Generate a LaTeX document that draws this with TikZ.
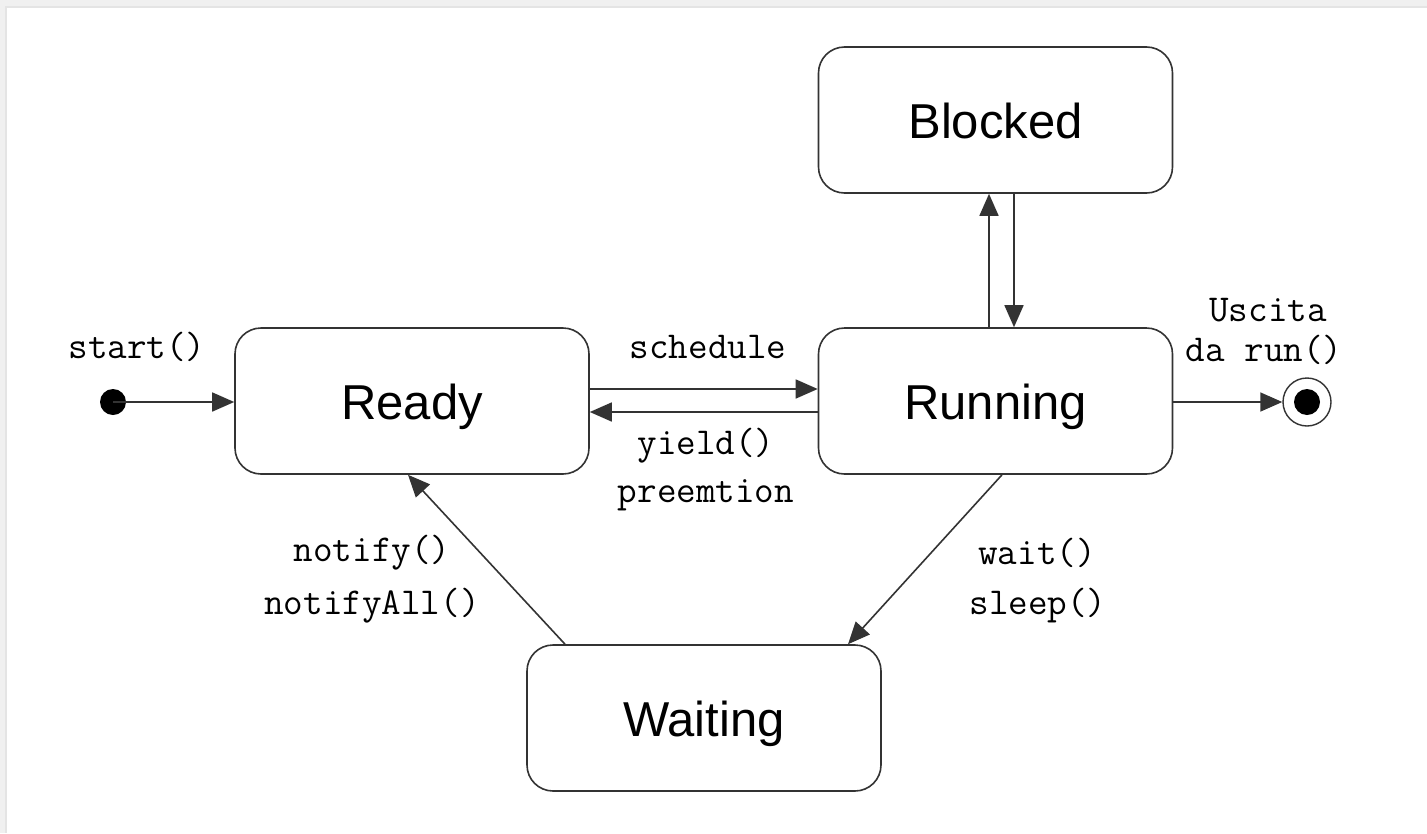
\documentclass[tikz,border=0pt]{standalone}
\usepackage{fontspec}
\setmainfont{Liberation Sans}
\usetikzlibrary{arrows.meta}
\definecolor{frame}{HTML}{F0F0F0}
\definecolor{frameedge}{HTML}{E4E4E4}
\definecolor{ink}{HTML}{333333}
\begin{document}
\begin{tikzpicture}[x=1pt,y=-1pt,
  state/.style={draw=ink, line width=1.6pt, rounded corners=26pt, minimum width=354pt,
    minimum height=146pt, font=\fontsize{49}{58}\selectfont, inner sep=0pt,
    text height=36pt, text depth=0pt},
  lbl/.style={font=\ttfamily\fontsize{38}{44}\selectfont, text=black, inner sep=0pt, anchor=center},
  trans/.style={draw=ink, line width=1.6pt, -{Triangle[length=22pt,width=19pt]}}]
  % page frame
  \fill[frame] (0,0) rectangle (1427,833);
  \fill[frameedge] (5,6) rectangle (1427,833);
  \fill[white] (7,8) rectangle (1427,833);
  \useasboundingbox (0,0) rectangle (1427,833);

  % states
  \node[state] (ready)   at (412,401) {Ready};
  \node[state] (running) at (995.5,401) {Running};
  \node[state] (blocked) at (995.5,120) {Blocked};
  \node[state] (waiting) at (704,718) {Waiting};

  % pseudo states
  \coordinate (init) at (113,402);
  \fill (init) circle (13pt);
  \node[circle, draw=ink, line width=1.4pt, minimum size=48pt, inner sep=0pt] (final) at (1307,402) {};
  \fill (final.center) circle (13pt);

  % transitions
  \draw[trans] (init) -- (ready.west |- init);
  \draw[trans] (running.east |- final) -- (final.west);
  \draw[trans] ([yshift=12pt]ready.east) -- ([yshift=12pt]running.west);
  \draw[trans] ([yshift=-11pt]running.west) -- ([yshift=-11pt]ready.east);
  \draw[trans] ([xshift=-6.5pt]running.north) -- ([xshift=-6.5pt]blocked.south);
  \draw[trans] ([xshift=18.5pt]blocked.south) -- ([xshift=18.5pt]running.north);
  \draw[trans] (running.south -| 1002,0) -- (waiting.north -| 848,0);
  \draw[trans] (waiting.north -| 565,0) -- (ready.south -| 408,0);

  % labels
  \node[lbl] (lstart) at (137,347) {start()};
  \node[lbl] (lsched) at (708,347) {schedule};
  \node[lbl] (lyield) at (706,446) {yield()};
  \node[lbl] (lpre)   at (706,495) {preemtion};
  \node[lbl] (lusc)   at (1268,310) {Uscita};
  \node[lbl] (lrun)   at (1264,350) {da run()};
  \node[lbl] (lnot)   at (372,553) {notify()};
  \node[lbl] (lnall)  at (372,606) {notifyAll()};
  \node[lbl] (lwait)  at (1037,553) {wait()};
  \node[lbl] (lsleep) at (1038,606) {sleep()};
\end{tikzpicture}
\end{document}
